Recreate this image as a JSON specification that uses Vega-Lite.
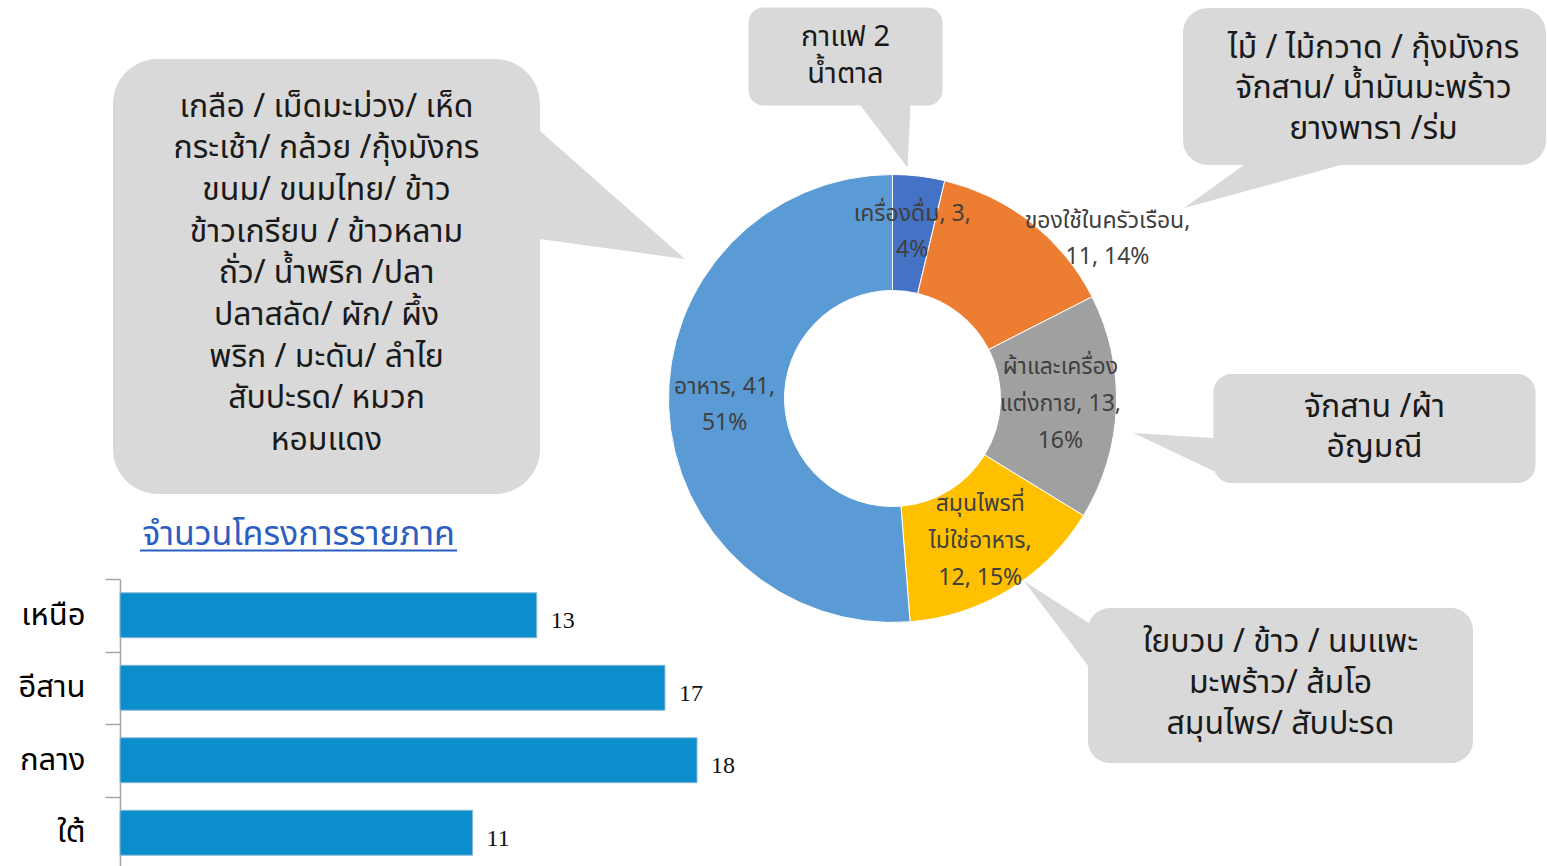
{
  "$schema": "https://vega.github.io/schema/vega-lite/v6.json",
  "background": "white",
  "padding": 0,
  "bounds": "flush",
  "spacing": 0,
  "columns": 9,
  "config": {"view": {"stroke": null}, "font": "Noto Sans", "concat": {"spacing": 0}},
  "concat": [
    {"width": 120, "height": 56, "data": {"values": []}, "mark": "text"},
    {"width": 178, "height": 1, "data": {"values": []}, "mark": "text"},
    {"width": 28, "height": 1, "data": {"values": []}, "mark": "text"},
    {"width": 519, "height": 1, "data": {"values": []}, "mark": "text"},
    {"width": 47, "height": 1, "data": {"values": []}, "mark": "text"},
    {"width": 388, "height": 1, "data": {"values": []}, "mark": "text"},
    {"width": 84, "height": 1, "data": {"values": []}, "mark": "text"},
    {"width": 10, "height": 1, "data": {"values": []}, "mark": "text"},
    {"width": 1, "height": 1, "data": {"values": []}, "mark": "text"},

    {"width": 1, "height": 30, "data": {"values": []}, "mark": "text"},
    {"width": 1, "height": 1, "data": {"values": []}, "mark": "text"},
    {"width": 1, "height": 1, "data": {"values": []}, "mark": "text"},
    {"width": 1, "height": 1, "data": {"values": []}, "mark": "text"},
    {
      "width": 1, "height": 1,
      "data": {"values": [{"lines": ["กาแฟ 2", "น้ำตาล"]}]},
      "layer": [
        {"mark": {"type": "point", "shape": "M-82,-49 L82,-49 A15,15 0 0 1 97,-34 L97,34 A15,15 0 0 1 82,49 L-82,49 A15,15 0 0 1 -97,34 L-97,-34 A15,15 0 0 1 -82,-49 Z M65,40 L65,49 L62,111 L15,49 L15,40 Z", "size": 4, "filled": true, "color": "#d9d9d9", "opacity": 1, "strokeWidth": 0}, "encoding": {}},
        {"mark": {"type": "text", "font": "Noto Sans Thai, Noto Sans", "fontSize": 29, "lineHeight": 37, "dy": -20, "color": "#1a1a1a", "align": "center", "baseline": "middle"}, "encoding": {"text": {"field": "lines"}}}
      ]
    },
    {"width": 1, "height": 1, "data": {"values": []}, "mark": "text"},
    {"width": 1, "height": 1, "data": {"values": []}, "mark": "text"},
    {"width": 1, "height": 1, "data": {"values": []}, "mark": "text"},
    {"width": 1, "height": 1, "data": {"values": []}, "mark": "text"},

    {"width": 1, "height": 190, "data": {"values": []}, "mark": "text"},
    {"width": 1, "height": 1, "data": {"values": []}, "mark": "text"},
    {"width": 1, "height": 1, "data": {"values": []}, "mark": "text"},
    {"width": 1, "height": 1, "data": {"values": []}, "mark": "text"},
    {"width": 1, "height": 1, "data": {"values": []}, "mark": "text"},
    {"width": 1, "height": 1, "data": {"values": []}, "mark": "text"},
    {"width": 1, "height": 1, "data": {"values": []}, "mark": "text"},
    {
      "width": 1, "height": 1,
      "data": {"values": [{"lines": ["ไม้ / ไม้กวาด / กุ้งมังกร", "จักสาน/ น้ำมันมะพร้าว", "ยางพารา /ร่ม"]}]},
      "layer": [
        {"mark": {"type": "point", "shape": "M-156.5,-78.5 L156.5,-78.5 A25,25 0 0 1 181.5,-53.5 L181.5,53.5 A25,25 0 0 1 156.5,78.5 L-156.5,78.5 A25,25 0 0 1 -181.5,53.5 L-181.5,-53.5 A25,25 0 0 1 -156.5,-78.5 Z M-23.5,70 L-23.5,78.5 L-180.5,121.5 L-120.5,78.5 L-120.5,70 Z", "size": 4, "filled": true, "color": "#d9d9d9", "opacity": 1, "strokeWidth": 0}, "encoding": {}},
        {"mark": {"type": "text", "font": "Noto Sans Thai, Noto Sans", "fontSize": 32, "lineHeight": 40.5, "dx": 9, "dy": -39, "color": "#1a1a1a", "align": "center", "baseline": "middle"}, "encoding": {"text": {"field": "lines"}}}
      ]
    },
    {"width": 1, "height": 1, "data": {"values": []}, "mark": "text"},

    {"width": 1, "height": 122, "data": {"values": []}, "mark": "text"},
    {"width": 1, "height": 1, "data": {"values": []}, "mark": "text"},
    {"width": 1, "height": 1, "data": {"values": []}, "mark": "text"},
    {
      "width": 1, "height": 1,
      "data": {"values": [{"lines": ["เกลือ / เม็ดมะม่วง/ เห็ด", "กระเช้า/ กล้วย /กุ้งมังกร", "ขนม/ ขนมไทย/ ข้าว", "ข้าวเกรียบ / ข้าวหลาม", "ถั่ว/ น้ำพริก /ปลา", "ปลาสลัด/ ผัก/ ผึ้ง", "พริก / มะดัน/ ลำไย", "สับปะรด/ หมวก", "หอมแดง"]}]},
      "layer": [
        {"mark": {"type": "point", "shape": "M-168.5,-217.5 L168.5,-217.5 A45,45 0 0 1 213.5,-172.5 L213.5,172.5 A45,45 0 0 1 168.5,217.5 L-168.5,217.5 A45,45 0 0 1 -213.5,172.5 L-213.5,-172.5 A45,45 0 0 1 -168.5,-217.5 Z M200,-145.5 L213.5,-145.5 L358.5,-17.5 L213.5,-37.5 L200,-37.5 Z", "size": 4, "filled": true, "color": "#d9d9d9", "opacity": 1, "strokeWidth": 0}, "encoding": {}},
        {"mark": {"type": "text", "font": "Noto Sans Thai, Noto Sans", "fontSize": 32, "lineHeight": 41.7, "dy": -170, "color": "#1a1a1a", "align": "center", "baseline": "middle"}, "encoding": {"text": {"field": "lines"}}}
      ]
    },
    {"width": 1, "height": 1, "data": {"values": []}, "mark": "text"},
    {"width": 1, "height": 1, "data": {"values": []}, "mark": "text"},
    {"width": 1, "height": 1, "data": {"values": []}, "mark": "text"},
    {"width": 1, "height": 1, "data": {"values": []}, "mark": "text"},
    {"width": 1, "height": 1, "data": {"values": []}, "mark": "text"},

    {"width": 1, "height": 30, "data": {"values": []}, "mark": "text"},
    {"width": 1, "height": 1, "data": {"values": []}, "mark": "text"},
    {"width": 1, "height": 1, "data": {"values": []}, "mark": "text"},
    {"width": 1, "height": 1, "data": {"values": []}, "mark": "text"},
    {"width": 1, "height": 1, "data": {"values": []}, "mark": "text"},
    {
      "width": 1, "height": 1,
      "data": {"values": [
        {"cat": "เครื่องดื่ม", "value": 3, "idx": 1, "lines": ["เครื่องดื่ม, 3,", "4%"]},
        {"cat": "ของใช้ในครัวเรือน", "value": 11, "idx": 2, "lines": ["ของใช้ในครัวเรือน,", "11, 14%"]},
        {"cat": "ผ้าและเครื่องแต่งกาย", "value": 13, "idx": 3, "lines": ["ผ้าและเครื่อง", "แต่งกาย, 13,", "16%"]},
        {"cat": "สมุนไพรที่ไม่ใช่อาหาร", "value": 12, "idx": 4, "lines": ["สมุนไพรที่", "ไม่ใช่อาหาร,", "12, 15%"]},
        {"cat": "อาหาร", "value": 41, "idx": 5, "lines": ["อาหาร, 41,", "51%"]}
      ]},
      "layer": [
        {
          "mark": {"type": "arc", "outerRadius": 224, "innerRadius": 108, "stroke": "#ffffff", "strokeWidth": 1},
          "encoding": {
            "theta": {"field": "value", "type": "quantitative", "stack": true},
            "order": {"field": "idx", "type": "quantitative"},
            "color": {"field": "cat", "type": "nominal", "legend": null,
              "scale": {"domain": ["เครื่องดื่ม", "ของใช้ในครัวเรือน", "ผ้าและเครื่องแต่งกาย", "สมุนไพรที่ไม่ใช่อาหาร", "อาหาร"], "range": ["#4472C4", "#ED7D31", "#A0A0A0", "#FFC000", "#5B9BD5"]}}
          }
        },
        {
          "mark": {"type": "text", "radius": 168, "dy": -18, "font": "Noto Sans Thai, Noto Sans", "fontSize": 23, "lineHeight": 36, "color": "#404040", "align": "center", "baseline": "middle"},
          "encoding": {
            "theta": {"field": "value", "type": "quantitative", "stack": true},
            "order": {"field": "idx", "type": "quantitative"},
            "detail": {"field": "cat", "type": "nominal"},
            "text": {"condition": {"test": "datum.idx === 1 || datum.idx === 5", "field": "lines"}, "value": ""}
          }
        },
        {
          "mark": {"type": "text", "radius": 168, "dy": -38, "font": "Noto Sans Thai, Noto Sans", "fontSize": 23, "lineHeight": 37, "color": "#404040", "align": "center", "baseline": "middle"},
          "encoding": {
            "theta": {"field": "value", "type": "quantitative", "stack": true},
            "order": {"field": "idx", "type": "quantitative"},
            "detail": {"field": "cat", "type": "nominal"},
            "text": {"condition": {"test": "datum.idx === 3 || datum.idx === 4", "field": "lines"}, "value": ""}
          }
        },
        {
          "mark": {"type": "text", "radius": 168, "dx": 111, "dy": -46, "font": "Noto Sans Thai, Noto Sans", "fontSize": 23, "lineHeight": 36, "color": "#404040", "align": "center", "baseline": "middle"},
          "encoding": {
            "theta": {"field": "value", "type": "quantitative", "stack": true},
            "order": {"field": "idx", "type": "quantitative"},
            "detail": {"field": "cat", "type": "nominal"},
            "text": {"condition": {"test": "datum.idx === 2", "field": "lines"}, "value": ""}
          }
        }
      ]
    },
    {"width": 1, "height": 1, "data": {"values": []}, "mark": "text"},
    {"width": 1, "height": 1, "data": {"values": []}, "mark": "text"},
    {"width": 1, "height": 1, "data": {"values": []}, "mark": "text"},

    {"width": 1, "height": 122, "data": {"values": []}, "mark": "text"},
    {"width": 1, "height": 1, "data": {"values": []}, "mark": "text"},
    {"width": 1, "height": 1, "data": {"values": []}, "mark": "text"},
    {"width": 1, "height": 1, "data": {"values": []}, "mark": "text"},
    {"width": 1, "height": 1, "data": {"values": []}, "mark": "text"},
    {"width": 1, "height": 1, "data": {"values": []}, "mark": "text"},
    {"width": 1, "height": 1, "data": {"values": []}, "mark": "text"},
    {"width": 1, "height": 1, "data": {"values": []}, "mark": "text"},
    {
      "width": 1, "height": 1,
      "data": {"values": [{"lines": ["จักสาน /ผ้า", "อัญมณี"]}]},
      "layer": [
        {"mark": {"type": "point", "shape": "M-143,-54.5 L143,-54.5 A18,18 0 0 1 161,-36.5 L161,36.5 A18,18 0 0 1 143,54.5 L-143,54.5 A18,18 0 0 1 -161,36.5 L-161,-36.5 A18,18 0 0 1 -143,-54.5 Z M-150,42.5 L-161,42.5 L-241,4.5 L-161,9.5 L-150,9.5 Z", "size": 4, "filled": true, "color": "#d9d9d9", "opacity": 1, "strokeWidth": 0}, "encoding": {}},
        {"mark": {"type": "text", "font": "Noto Sans Thai, Noto Sans", "fontSize": 32, "lineHeight": 40, "dy": -22, "color": "#1a1a1a", "align": "center", "baseline": "middle"}, "encoding": {"text": {"field": "lines"}}}
      ]
    },

    {"width": 1, "height": 29, "data": {"values": []}, "mark": "text"},
    {"width": 1, "height": 1, "data": {"values": []}, "mark": "text"},
    {
      "width": 1, "height": 1,
      "data": {"values": [{"t": "จำนวนโครงการรายภาค"}]},
      "layer": [
        {"mark": {"type": "point", "shape": "M-158.5,-1 L158.5,-1 L158.5,1 L-158.5,1 Z", "size": 4, "filled": true, "color": "#2B5EC2", "opacity": 1, "strokeWidth": 0}, "encoding": {}},
        {"mark": {"type": "text", "font": "Noto Sans Thai, Noto Sans", "baseline": "alphabetic", "dy": -6, "fontSize": 34, "color": "#2B5EC2", "align": "center"}, "encoding": {"text": {"field": "t"}}}
      ]
    },
    {"width": 1, "height": 1, "data": {"values": []}, "mark": "text"},
    {"width": 1, "height": 1, "data": {"values": []}, "mark": "text"},
    {"width": 1, "height": 1, "data": {"values": []}, "mark": "text"},
    {"width": 1, "height": 1, "data": {"values": []}, "mark": "text"},
    {"width": 1, "height": 1, "data": {"values": []}, "mark": "text"},
    {"width": 1, "height": 1, "data": {"values": []}, "mark": "text"},

    {"width": 1, "height": 106, "data": {"values": []}, "mark": "text"},
    {
      "width": 1, "height": 1,
      "data": {"values": [{"region": "เหนือ", "n": 13}, {"region": "อีสาน", "n": 17}, {"region": "กลาง", "n": 18}, {"region": "ใต้", "n": 11}]},
      "encoding": {
        "y": {"field": "region", "type": "nominal", "sort": null, "scale": {"range": [0, 290], "paddingInner": 0, "paddingOuter": 0},
          "axis": {"title": null, "tickBand": "extent", "tickSize": 15, "labelPadding": 20, "labelFontSize": 31, "labelColor": "#000000", "labelFont": "Noto Sans Thai, Noto Sans", "domainColor": "#A6A6A6", "tickColor": "#A6A6A6", "domainWidth": 1.5, "tickWidth": 1.5}},
        "x": {"field": "n", "type": "quantitative", "scale": {"domain": [0, 18], "range": [0, 577]}, "axis": null}
      },
      "layer": [
        {"mark": {"type": "bar", "height": {"band": 0.62}, "color": "#0B8ECB", "stroke": "#8DB8D6", "strokeWidth": 1}},
        {"mark": {"type": "text", "align": "left", "baseline": "middle", "dx": 14, "dy": 6, "font": "Liberation Serif", "fontSize": 24, "color": "#111111"}, "encoding": {"text": {"field": "n", "type": "quantitative"}}}
      ]
    },
    {"width": 1, "height": 1, "data": {"values": []}, "mark": "text"},
    {"width": 1, "height": 1, "data": {"values": []}, "mark": "text"},
    {"width": 1, "height": 1, "data": {"values": []}, "mark": "text"},
    {"width": 1, "height": 1, "data": {"values": []}, "mark": "text"},
    {"width": 1, "height": 1, "data": {"values": []}, "mark": "text"},
    {"width": 1, "height": 1, "data": {"values": []}, "mark": "text"},
    {"width": 1, "height": 1, "data": {"values": []}, "mark": "text"},

    {"width": 1, "height": 1, "data": {"values": []}, "mark": "text"},
    {"width": 1, "height": 1, "data": {"values": []}, "mark": "text"},
    {"width": 1, "height": 1, "data": {"values": []}, "mark": "text"},
    {"width": 1, "height": 1, "data": {"values": []}, "mark": "text"},
    {"width": 1, "height": 1, "data": {"values": []}, "mark": "text"},
    {"width": 1, "height": 1, "data": {"values": []}, "mark": "text"},
    {
      "width": 1, "height": 1,
      "data": {"values": [{"lines": ["ใยบวบ / ข้าว / นมแพะ", "มะพร้าว/ ส้มโอ", "สมุนไพร/ สับปะรด"]}]},
      "layer": [
        {"mark": {"type": "point", "shape": "M-170.5,-77.5 L170.5,-77.5 A22,22 0 0 1 192.5,-55.5 L192.5,55.5 A22,22 0 0 1 170.5,77.5 L-170.5,77.5 A22,22 0 0 1 -192.5,55.5 L-192.5,-55.5 A22,22 0 0 1 -170.5,-77.5 Z M-256.5,-104.5 L-180,-55 L-180,-3.3 Z", "size": 4, "filled": true, "color": "#d9d9d9", "opacity": 1, "strokeWidth": 0}, "encoding": {}},
        {"mark": {"type": "text", "font": "Noto Sans Thai, Noto Sans", "fontSize": 32, "lineHeight": 41, "dy": -44, "color": "#1a1a1a", "align": "center", "baseline": "middle"}, "encoding": {"text": {"field": "lines"}}}
      ]
    },
    {"width": 1, "height": 1, "data": {"values": []}, "mark": "text"},
    {"width": 1, "height": 1, "data": {"values": []}, "mark": "text"}
  ]
}
